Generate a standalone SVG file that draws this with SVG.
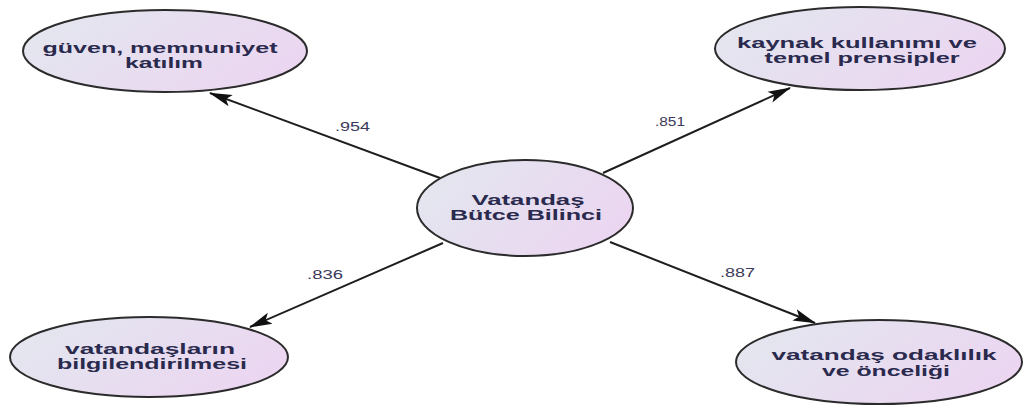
<svg xmlns="http://www.w3.org/2000/svg" width="1023" height="406" viewBox="0 0 1023 406">
  <defs>
    <linearGradient id="fillGrad" x1="0" y1="0.3" x2="1" y2="0.7">
      <stop offset="0" stop-color="#e3e6ef"/>
      <stop offset="1" stop-color="#ecd5f1"/>
    </linearGradient>
    <marker id="arrow" markerUnits="userSpaceOnUse" markerWidth="24" markerHeight="14" refX="22" refY="7" orient="auto">
      <path d="M0,1 L23,7 L0,13 L5,7 z" fill="#111"/>
    </marker>
    <style>
      .node ellipse { fill: url(#fillGrad); stroke: #2b2b2b; stroke-width: 2; }
      .node text { font-family: "Liberation Sans", Arial, sans-serif; font-size: 14px; font-weight: bold; fill: #2a2a4e; text-anchor: middle; }
      .conn line { stroke: #1e1e1e; stroke-width: 2; marker-end: url(#arrow); }
      .lbl { font-family: "Liberation Sans", Arial, sans-serif; font-size: 12.5px; fill: #3a3a5a; }
    </style>
  </defs>
  <rect width="1023" height="406" fill="#ffffff"/>

  <g id="connectors" class="conn">
    <line x1="440" y1="178" x2="210" y2="93"/>
    <line x1="603" y1="173" x2="790" y2="88"/>
    <line x1="443" y1="243" x2="250" y2="327"/>
    <line x1="610" y1="242" x2="815" y2="323"/>
    <text class="lbl" x="335" y="131" textLength="35" lengthAdjust="spacingAndGlyphs">.954</text>
    <text class="lbl" x="655" y="126" textLength="30" lengthAdjust="spacingAndGlyphs">.851</text>
    <text class="lbl" x="307" y="279" textLength="36" lengthAdjust="spacingAndGlyphs">.836</text>
    <text class="lbl" x="720" y="277" textLength="35" lengthAdjust="spacingAndGlyphs">.887</text>
  </g>

  <g id="node-center" class="node">
    <ellipse cx="525" cy="208" rx="108" ry="48"/>
    <text x="528" y="205" textLength="113" lengthAdjust="spacingAndGlyphs">Vatandaş</text>
    <text x="526" y="220" textLength="152" lengthAdjust="spacingAndGlyphs">Bütce Bilinci</text>
  </g>

  <g id="node-guven" class="node">
    <ellipse cx="165" cy="51" rx="142" ry="41"/>
    <text x="160" y="53" textLength="235" lengthAdjust="spacingAndGlyphs">güven, memnuniyet</text>
    <text x="164" y="68" textLength="78" lengthAdjust="spacingAndGlyphs">katılım</text>
  </g>

  <g id="node-kaynak" class="node">
    <ellipse cx="860" cy="48.5" rx="145" ry="41.5"/>
    <text x="857" y="48" textLength="240" lengthAdjust="spacingAndGlyphs">kaynak kullanımı ve</text>
    <text x="862" y="63" textLength="195" lengthAdjust="spacingAndGlyphs">temel prensipler</text>
  </g>

  <g id="node-bilgilendirme" class="node">
    <ellipse cx="149" cy="357" rx="139" ry="40"/>
    <text x="150" y="354" textLength="170" lengthAdjust="spacingAndGlyphs">vatandaşların</text>
    <text x="152" y="369" textLength="190" lengthAdjust="spacingAndGlyphs">bilgilendirilmesi</text>
  </g>

  <g id="node-odaklilik" class="node">
    <ellipse cx="879" cy="362" rx="143" ry="42"/>
    <text x="884" y="360" textLength="225" lengthAdjust="spacingAndGlyphs">vatandaş odaklılık</text>
    <text x="886" y="376" textLength="128" lengthAdjust="spacingAndGlyphs">ve önceliği</text>
  </g>
</svg>
